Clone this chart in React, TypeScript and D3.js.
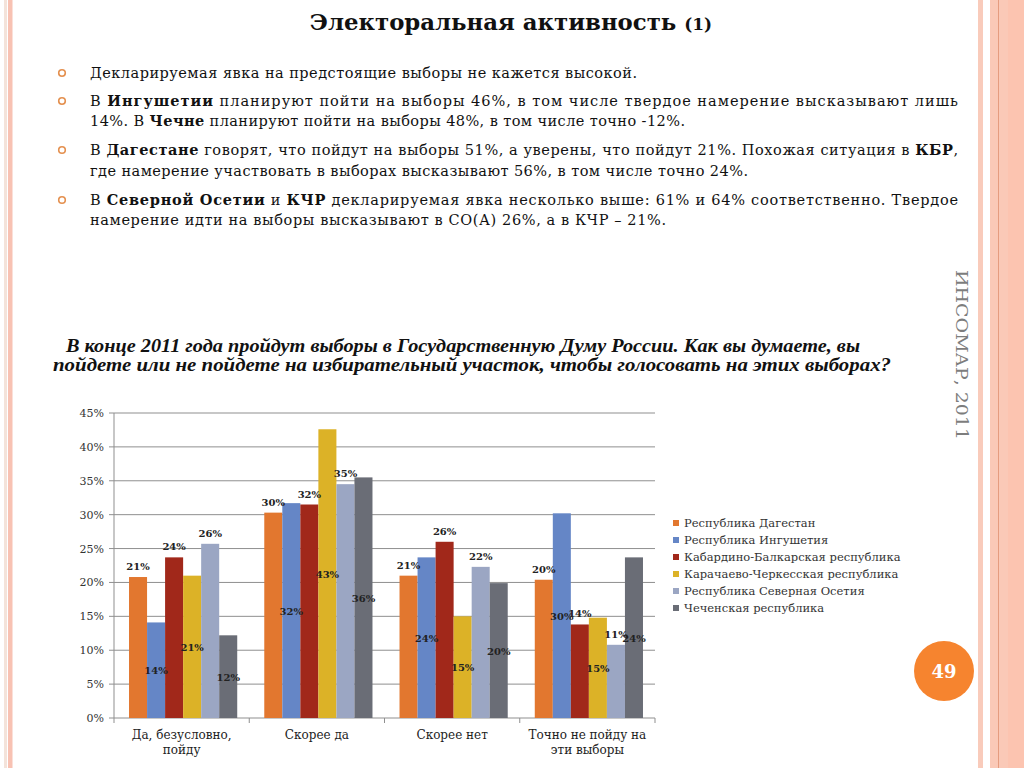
import React from "react";
import * as d3 from "d3";

const categories = ["Да, безусловно, пойду", "Скорее да", "Скорее нет", "Точно не пойду на эти выборы"];
const categoryLines = [["Да, безусловно,", "пойду"], ["Скорее да"], ["Скорее нет"], ["Точно не пойду на", "эти выборы"]];

const seriesNames = [
  "Республика Дагестан",
  "Республика Ингушетия",
  "Кабардино-Балкарская республика",
  "Карачаево-Черкесская республика",
  "Республика Северная Осетия",
  "Чеченская республика",
];
const seriesColors = ["#E2772F", "#6586C6", "#A1281A", "#DCB227", "#9BA6C3", "#6A6D76"];

const dagestan = [20.8, 30.3, 21.0, 20.4];
const ingushetia = [14.1, 31.7, 23.7, 30.2];
const kbr = [23.7, 31.5, 26.0, 13.8];
const kchr = [21.0, 42.6, 15.0, 14.8];
const ossetia = [25.7, 34.5, 22.3, 10.8];
const chechnya = [12.2, 35.5, 19.9, 23.7];
const seriesValues = [dagestan, ingushetia, kbr, kchr, ossetia, chechnya];

const yTicks = [0, 5, 10, 15, 20, 25, 30, 35, 40, 45];

const serif = "'DejaVu Serif', serif";

const App: React.FC = () => {
  const x = d3.scaleBand<string>().domain(categories).range([114, 655]).padding(0);
  const inner = d3
    .scaleBand<string>()
    .domain(seriesNames)
    .range([1.5, x.bandwidth() + 1.5])
    .paddingInner(0)
    .paddingOuter(0.75);
  const y = d3.scaleLinear().domain([0, 45]).range([718, 413]);

  const bullets = [73, 101, 150, 200];

  return (
    <svg
      width={1024}
      height={768}
      style={{ position: "absolute", left: 0, top: 0, background: "#fff", fontFamily: serif }}
    >
      {/* slide borders */}
      <rect x={4} y={0} width={3} height={768} fill="#F4E3DA" />
      <rect x={8} y={0} width={4.5} height={768} fill="#F8C2B3" />
      <rect x={978} y={0} width={5} height={768} fill="#F9CBBB" />
      <rect x={990} y={0} width={34} height={768} fill="#FAC9B7" />
      <rect x={1008} y={0} width={16} height={768} fill="#FCC4B0" />
      <line x1={998.5} x2={998.5} y1={0} y2={768} stroke="#E59C7F" strokeWidth={1} />

      {/* title */}
      <text x={511} y={30} textAnchor="middle" fontSize={22.8} fontWeight="bold" fill="#111">
        Электоральная активность <tspan fontSize={17}>(1)</tspan>
      </text>

      {bullets.map((b) => (
        <circle key={b} cx={62} cy={b} r={3.3} fill="none" stroke="#E4904F" strokeWidth={1.6} />
      ))}

      <g fontSize={14.5} fill="#111">
        <text x={90} y={78} textLength={547} lengthAdjust="spacing">
          Декларируемая явка на предстоящие выборы не кажется высокой.
        </text>
        <text x={90} y={106} textLength={868} lengthAdjust="spacing">
          {" "}В <tspan fontWeight="bold">Ингушетии</tspan> планируют пойти на выборы 46%, в том числе твердое намерение высказывают лишь
        </text>
        <text x={90} y={126} textLength={595} lengthAdjust="spacing">
          14%. В <tspan fontWeight="bold">Чечне</tspan> планируют пойти на выборы 48%, в том числе точно -12%.
        </text>
        <text x={90} y={155} textLength={868} lengthAdjust="spacing">
          В <tspan fontWeight="bold">Дагестане</tspan> говорят, что пойдут на выборы 51%, а уверены, что пойдут 21%. Похожая ситуация в{" "}
          <tspan fontWeight="bold">КБР</tspan>,
        </text>
        <text x={90} y={176} textLength={658} lengthAdjust="spacing">
          где намерение участвовать в выборах высказывают 56%, в том числе точно 24%.
        </text>
        <text x={90} y={205} textLength={868} lengthAdjust="spacing">
          В <tspan fontWeight="bold">Северной Осетии</tspan> и <tspan fontWeight="bold">КЧР</tspan> декларируемая явка несколько выше: 61% и 64% соответственно. Твердое
        </text>
        <text x={90} y={225} textLength={576} lengthAdjust="spacing">
          намерение идти на выборы высказывают в СО(А) 26%, а в КЧР – 21%.
        </text>
      </g>

      <text
        transform="translate(956,270) rotate(90)"
        fontSize={17}
        fill="#7d7d7d"
        textLength={170}
        lengthAdjust="spacingAndGlyphs"
      >
        ИНСОМАР, 2011
      </text>

      {/* chart question */}
      <g fontFamily="'Liberation Serif', serif" fontStyle="italic" fontWeight="bold" fontSize={18} fill="#111">
        <text x={66} y={352} textLength={794} lengthAdjust="spacingAndGlyphs">
          В конце 2011 года пройдут выборы в Государственную Думу России. Как вы думаете, вы
        </text>
        <text x={53} y={371} textLength={838} lengthAdjust="spacingAndGlyphs">
          пойдете или не пойдете на избирательный участок, чтобы голосовать на этих выборах?
        </text>
      </g>

      {/* grid */}
      {yTicks.map((t) => (
        <g key={t}>
          <line x1={109} x2={655} y1={y(t)} y2={y(t)} stroke="#8f8f8f" strokeWidth={1} />
          <text x={104} y={y(t) + 4} textAnchor="end" fontSize={11} fill="#333">
            {t}%
          </text>
        </g>
      ))}
      <line x1={114} x2={114} y1={413} y2={718} stroke="#8f8f8f" strokeWidth={1} />
      {[...categories.map((c) => x(c) as number), 655].map((v, i) => (
        <line key={i} x1={v} x2={v} y1={718} y2={723} stroke="#8f8f8f" strokeWidth={1} />
      ))}

      {/* bars */}
      {seriesValues.map((vals, si) =>
        vals.map((v, ci) => {
          const bx = (x(categories[ci]) as number) + (inner(seriesNames[si]) as number);
          const bw = inner.bandwidth();
          return (
            <rect key={`${si}-${ci}`} x={bx} y={y(v)} width={bw} height={y(0) - y(v)} fill={seriesColors[si]} />
          );
        })
      )}

      {/* labels */}
      <g fontSize={10} fontWeight="bold" fill="#222" textAnchor="middle">
        {seriesValues.map((vals, si) =>
          vals.map((v, ci) => {
            const cx = (x(categories[ci]) as number) + (inner(seriesNames[si]) as number) + inner.bandwidth() / 2;
            const ly = si % 2 === 0 ? y(v) - 7 : (y(v) + y(0)) / 2 + 4;
            return (
              <text key={`l${si}-${ci}`} x={cx} y={ly}>
                {Math.round(v)}%
              </text>
            );
          })
        )}
      </g>

      {/* category labels */}
      <g fontSize={12} fill="#222" textAnchor="middle">
        {categories.map((c, i) => (
          <text key={c} x={(x(c) as number) + x.bandwidth() / 2} y={739}>
            {categoryLines[i].map((l, k) => (
              <tspan key={k} x={(x(c) as number) + x.bandwidth() / 2} dy={k === 0 ? 0 : 15}>
                {l}
              </tspan>
            ))}
          </text>
        ))}
      </g>

      {/* legend */}
      <g fontSize={11.5} fill="#333">
        {seriesNames.map((n, i) => (
          <g key={n} transform={`translate(673, ${523 + i * 17})`}>
            <rect x={0} y={-3} width={6} height={6} fill={seriesColors[i]} />
            <text x={11} y={4}>
              {n}
            </text>
          </g>
        ))}
      </g>

      {/* page number */}
      <circle cx={944} cy={671} r={30} fill="#F6842F" />
      <text x={944} y={678} textAnchor="middle" fontSize={18} fontWeight="bold" fill="#fff">
        49
      </text>
    </svg>
  );
};

export default App;
